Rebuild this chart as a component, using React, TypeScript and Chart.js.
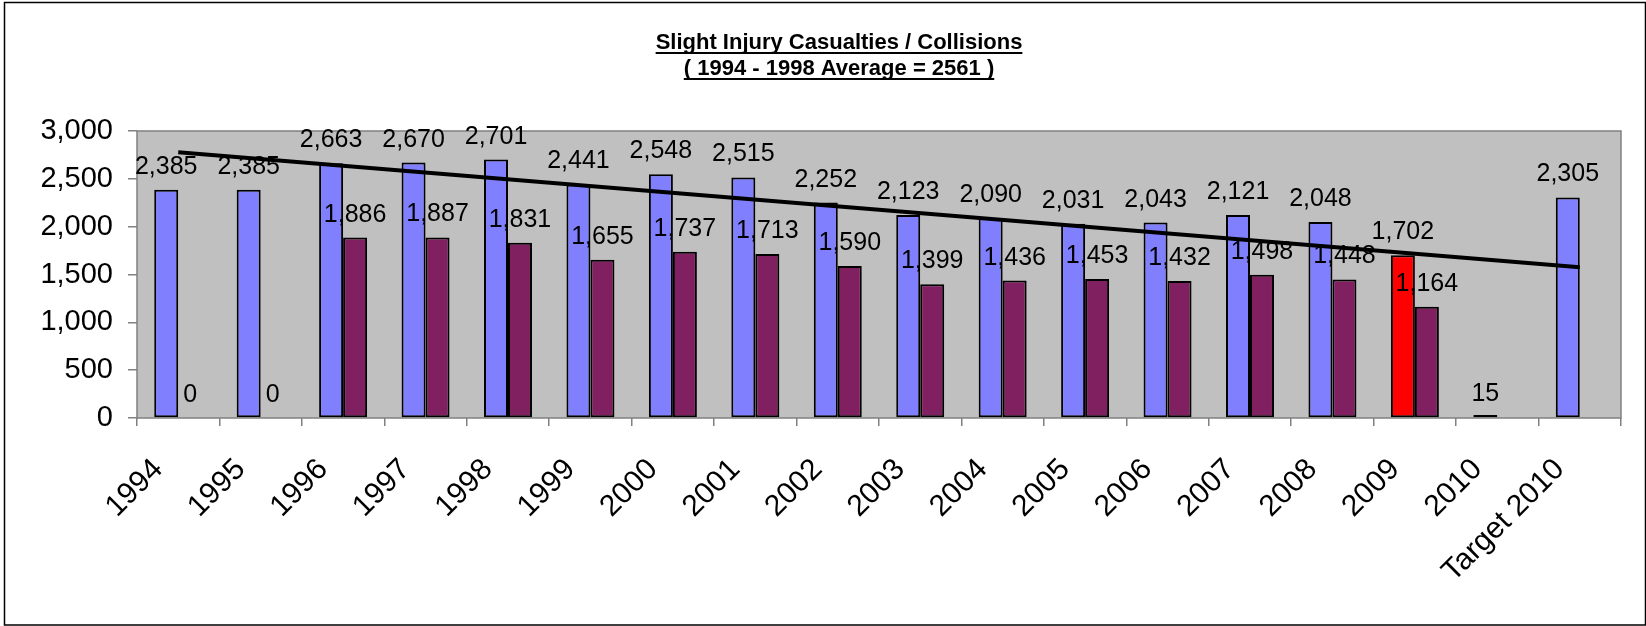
import React, { useEffect, useRef } from 'react';
import { Chart, registerables } from 'chart.js';

Chart.register(...registerables);

const categories = [
  '1994', '1995', '1996', '1997', '1998', '1999', '2000', '2001', '2002',
  '2003', '2004', '2005', '2006', '2007', '2008', '2009', '2010', 'Target 2010',
];
const casualties = [
  2385, 2385, 2663, 2670, 2701, 2441, 2548, 2515, 2252,
  2123, 2090, 2031, 2043, 2121, 2048, 1702, 15, 2305,
];
const collisions = [
  0, 0, 1886, 1887, 1831, 1655, 1737, 1713, 1590,
  1399, 1436, 1453, 1432, 1498, 1448, 1164, null, null,
];
// linear trend line: read at its two ends (1994 and Target 2010)
const trendLine = [
  2777, null, null, null, null, null, null, null, null,
  null, null, null, null, null, null, null, null, 1576,
];
const highlightCategory = '2009';
const yMin = 0;
const yMax = 3000;
const yStep = 500;
const titleLines = ['Slight Injury Casualties / Collisions', '( 1994 - 1998 Average = 2561 )'];

const FONT = '"Liberation Sans", Arial, Helvetica, sans-serif';
const BLUE = '#8080FF';
const MAROON = '#802060';
const RED = '#FF0000';
const PLOT_BG = '#C0C0C0';
const AXIS_GRAY = '#808080';

const fmt = (v: number) => v.toLocaleString('en-US');

const backgroundPlugin = {
  id: 'bgFrame',
  beforeDraw(chart: any) {
    const { ctx, chartArea: a, width, height } = chart;
    ctx.save();
    ctx.fillStyle = '#ffffff';
    ctx.fillRect(0, 0, width, height);
    ctx.strokeStyle = '#000000';
    ctx.lineWidth = 1.5;
    ctx.strokeRect(4.5, 2.5, width - 5, height - 3.5);
    ctx.fillStyle = PLOT_BG;
    ctx.fillRect(a.left, a.top, a.right - a.left, a.bottom - a.top);
    ctx.restore();
  },
  beforeDatasetsDraw(chart: any) {
    const { ctx, chartArea: a } = chart;
    ctx.save();
    ctx.strokeStyle = AXIS_GRAY;
    ctx.lineWidth = 1.5;
    ctx.strokeRect(a.left, a.top, a.right - a.left, a.bottom - a.top);
    ctx.restore();
  },
};

// bar value labels: drawn after the last bar dataset, before the trend line
const labelPlugin = {
  id: 'barLabels',
  afterDatasetDraw(chart: any, args: any) {
    if (args.index !== 1) return;
    const { ctx } = chart;
    ctx.save();
    ctx.font = `25px ${FONT}`;
    ctx.fillStyle = '#000000';
    ctx.textAlign = 'center';
    ctx.textBaseline = 'alphabetic';
    chart.data.datasets.forEach((ds: any, di: number) => {
      const meta = chart.getDatasetMeta(di);
      if (meta.type !== 'bar') return;
      meta.data.forEach((el: any, i: number) => {
        const v = ds.data[i];
        if (v === null || v === undefined) return;
        const base = chart.scales.y.getPixelForValue(v);
        ctx.fillText(fmt(v), el.x, base - 16);
      });
    });
    ctx.restore();
  },
};

const titlePlugin = {
  id: 'ulTitle',
  afterDraw(chart: any) {
    const { ctx } = chart;
    const cx = 839;
    const baselines = [49, 75];
    ctx.save();
    ctx.font = `bold 22px ${FONT}`;
    ctx.fillStyle = '#000000';
    ctx.strokeStyle = '#000000';
    ctx.textAlign = 'center';
    ctx.textBaseline = 'alphabetic';
    ctx.lineWidth = 2;
    titleLines.forEach((t, i) => {
      const y = baselines[i];
      ctx.fillText(t, cx, y);
      const w = ctx.measureText(t).width;
      ctx.beginPath();
      ctx.moveTo(cx - w / 2, y + 4);
      ctx.lineTo(cx + w / 2, y + 4);
      ctx.stroke();
    });
    ctx.restore();
  },
};

export default function App() {
  const canvasRef = useRef<HTMLCanvasElement | null>(null);

  useEffect(() => {
    if (!canvasRef.current) return;
    const chart = new Chart(canvasRef.current, {
      type: 'bar',
      data: {
        labels: categories,
        datasets: [
          {
            type: 'line',
            label: 'Trend',
            data: trendLine,
            borderColor: '#000000',
            borderWidth: 4,
            pointRadius: 0,
            spanGaps: true,
            fill: false,
            order: -1,
          } as any,
          {
            label: 'Casualties',
            data: casualties,
            backgroundColor: categories.map((c) => (c === highlightCategory ? RED : BLUE)),
            borderColor: '#000000',
            borderWidth: 2,
            borderSkipped: false,
            minBarLength: 3,
            categoryPercentage: 0.582,
            barPercentage: 1,
          },
          {
            label: 'Collisions',
            data: collisions,
            backgroundColor: MAROON,
            borderColor: '#000000',
            borderWidth: 2,
            borderSkipped: false,
            categoryPercentage: 0.582,
            barPercentage: 1,
          },
        ],
      },
      options: {
        responsive: false,
        animation: false,
        devicePixelRatio: 1,
        layout: { padding: { left: 0, top: 131, right: 25, bottom: 0 } },
        plugins: {
          legend: { display: false },
          tooltip: { enabled: false },
          title: { display: false },
        },
        scales: {
          x: {
            type: 'category',
            offset: true,
            grid: {
              offset: true,
              drawOnChartArea: false,
              drawTicks: true,
              tickLength: 8,
              color: AXIS_GRAY,
              lineWidth: 1.5,
            },
            border: { display: false },
            ticks: {
              minRotation: 45,
              maxRotation: 45,
              autoSkip: false,
              padding: 26,
              labelOffset: -20,
              color: '#000000',
              font: { family: FONT, size: 30 },
            },
            afterFit: (scale: any) => {
              scale.height = 208;
              scale.paddingLeft = 0;
              scale.paddingRight = 0;
            },
          },
          y: {
            min: yMin,
            max: yMax,
            grid: {
              drawOnChartArea: false,
              drawTicks: true,
              tickLength: 9,
              color: AXIS_GRAY,
              lineWidth: 1.5,
            },
            border: { display: false },
            ticks: {
              stepSize: yStep,
              padding: 15,
              color: '#000000',
              font: { family: FONT, size: 29 },
              callback: (v: any) => fmt(Number(v)),
            },
            afterFit: (scale: any) => {
              scale.width = 137;
              scale.paddingTop = 0;
              scale.paddingBottom = 0;
            },
          },
        },
      },
      plugins: [backgroundPlugin, labelPlugin, titlePlugin],
    });
    return () => chart.destroy();
  }, []);

  return (
    <div style={{ position: 'fixed', left: 0, top: 0, width: 1646, height: 626, background: '#fff' }}>
      <canvas ref={canvasRef} width={1646} height={626} style={{ width: 1646, height: 626, display: 'block' }} />
    </div>
  );
}
